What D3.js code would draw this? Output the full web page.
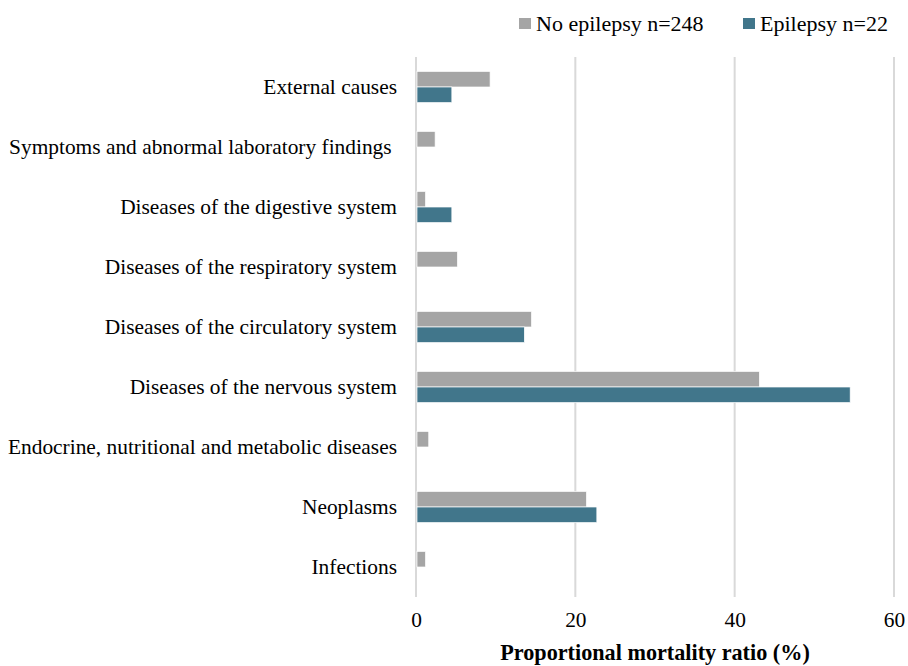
<!DOCTYPE html>
<html>
<head>
<meta charset="utf-8">
<script src="https://cdn.jsdelivr.net/npm/d3@7"></script>
<style>
  body { margin: 0; background: #fff; }
  svg text { font-family: "Liberation Serif", "Times New Roman", serif; fill: #000; }
</style>
</head>
<body>
<div id="chart"></div>
<script>
// categories, top to bottom
var categories = [
  "External causes",
  "Symptoms and abnormal laboratory findings ",
  "Diseases of the digestive system",
  "Diseases of the respiratory system",
  "Diseases of the circulatory system",
  "Diseases of the nervous system",
  "Endocrine, nutritional and metabolic diseases",
  "Neoplasms",
  "Infections"
];
var seriesNames = ["No epilepsy n=248", "Epilepsy n=22"];
var noEpilepsy = [9.3, 2.4, 1.2, 5.2, 14.5, 43.1, 1.6, 21.4, 1.2];
var epilepsy   = [4.5, 0, 4.5, 0, 13.6, 54.5, 0, 22.7, 0];
var xTicks = [0, 20, 40, 60];
var colors = ["#a5a5a5", "#41768b"];

var width = 908, height = 666;
var margin = {top: 57, right: 14, bottom: 69, left: 416};
var iw = width - margin.left - margin.right,
    ih = height - margin.top - margin.bottom;

var svg = d3.select("#chart").append("svg")
    .attr("width", width)
    .attr("height", height);

var g = svg.append("g")
    .attr("transform", "translate(" + margin.left + "," + margin.top + ")");

var x = d3.scaleLinear().domain([0, 60]).range([0, 478]);
var y = d3.scaleBand().domain(categories).range([0, ih]);
var y1 = d3.scaleBand().domain(seriesNames)
    .range([y.bandwidth() * 0.24, y.bandwidth() * 0.76]);

// gridlines
g.selectAll("line.grid")
  .data(xTicks)
  .enter().append("line")
    .attr("class", "grid")
    .attr("x1", function(d) { return x(d); })
    .attr("x2", function(d) { return x(d); })
    .attr("y1", 0)
    .attr("y2", ih)
    .attr("stroke", "#d9d9d9")
    .attr("stroke-width", 2);

// bars
var rows = categories.map(function(c, i) {
  return {cat: c, vals: [noEpilepsy[i], epilepsy[i]]};
});

var grp = g.selectAll("g.row")
  .data(rows)
  .enter().append("g")
    .attr("transform", function(d) { return "translate(0," + y(d.cat) + ")"; });

grp.selectAll("rect")
  .data(function(d) { return d.vals.map(function(v, j) { return {s: seriesNames[j], v: v, j: j}; }); })
  .enter().append("rect")
    .filter(function(d) { return d.v > 0; })
    .attr("x", x(0) + 1)
    .attr("y", function(d) { return y1(d.s); })
    .attr("width", function(d) { return x(d.v) - x(0) - 1; })
    .attr("height", y1.bandwidth())
    .attr("fill", function(d) { return colors[d.j]; })
    .attr("stroke", "#fff")
    .attr("stroke-width", 0.7);

// category labels
g.selectAll("text.cat")
  .data(categories)
  .enter().append("text")
    .attr("class", "cat")
    .attr("x", -19)
    .attr("y", function(d) { return y(d) + y.bandwidth() / 2; })
    .attr("dy", "0.35em")
    .attr("text-anchor", "end")
    .style("white-space", "pre")
    .style("font-size", "21.4px")
    .text(function(d) { return d; });

// x axis tick labels
var xAxis = g.append("g")
    .attr("transform", "translate(0," + ih + ")")
    .call(d3.axisBottom(x).tickValues(xTicks).tickSize(0).tickPadding(15));
xAxis.select(".domain").remove();
xAxis.selectAll("text")
    .style("font-family", "'Liberation Serif', 'Times New Roman', serif")
    .style("font-size", "21.4px")
    .attr("fill", "#000");

// axis title
g.append("text")
    .attr("x", x(30))
    .attr("y", ih + 63)
    .attr("text-anchor", "middle")
    .style("font-size", "22.2px")
    .style("font-weight", "bold")
    .text("Proportional mortality ratio (%)");

// legend
var legendX = [519, 743];
var legend = svg.selectAll("g.legend")
  .data(seriesNames)
  .enter().append("g")
    .attr("class", "legend")
    .attr("transform", function(d, i) { return "translate(" + legendX[i] + ",18)"; });
legend.append("rect")
    .attr("width", 12)
    .attr("height", 11)
    .attr("fill", function(d, i) { return colors[i]; });
legend.append("text")
    .attr("x", 17)
    .attr("y", 13)
    .style("font-size", "22px")
    .text(function(d) { return d; });
</script>
</body>
</html>
